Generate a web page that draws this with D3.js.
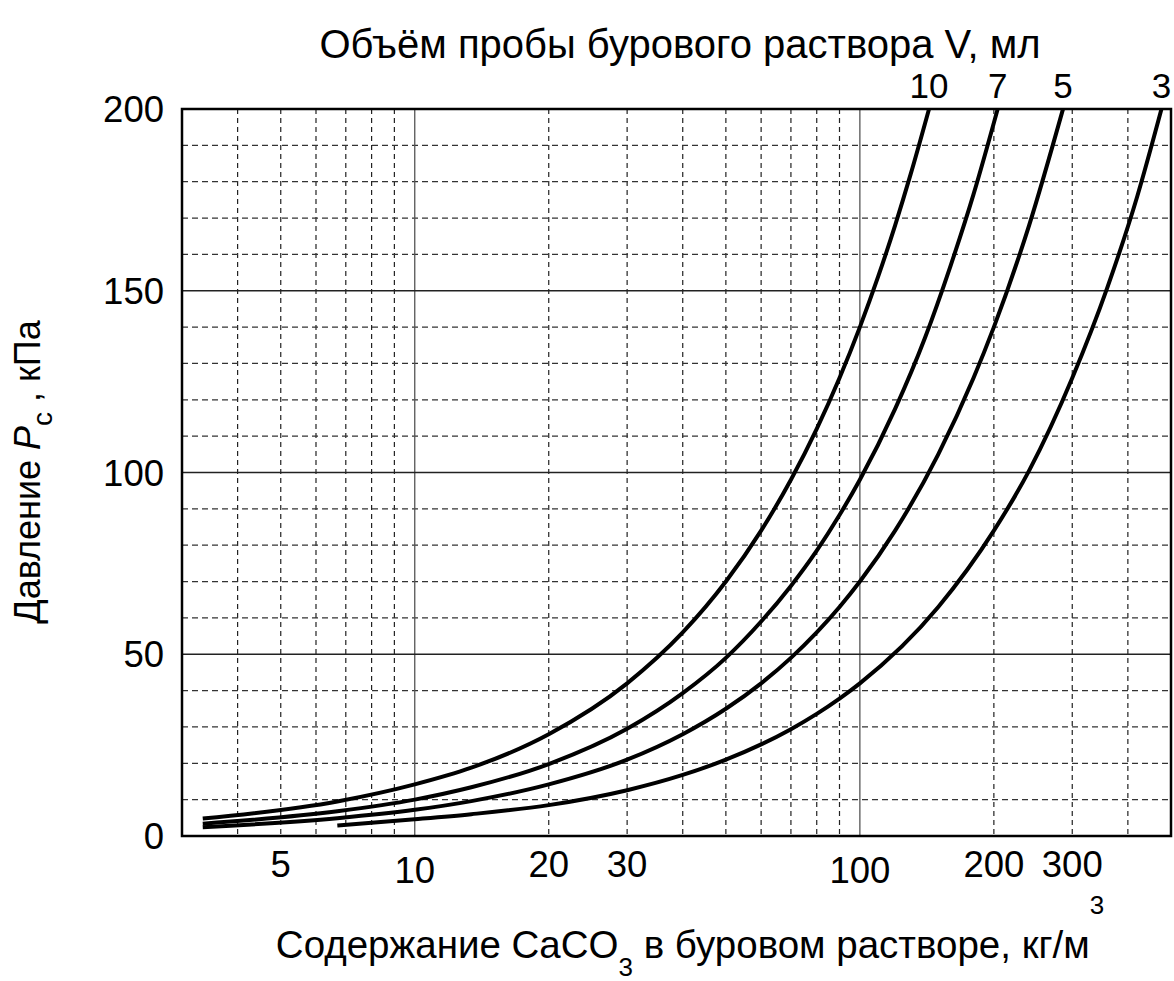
<!DOCTYPE html>
<html>
<head>
<meta charset="utf-8">
<script src="https://cdn.jsdelivr.net/npm/d3@7"></script>
<style>
  html, body { margin: 0; padding: 0; background: #fff; }
  svg { display: block; font-family: Arial, "Liberation Sans", Helvetica, sans-serif; }
</style>
</head>
<body>
<svg id="chart" width="1174" height="981"></svg>
<script>
// Content of CaCO3 (kg/m3) against pressure Pc (kPa), one line per sample volume V (ml)
const volumes = [10, 7, 5, 3];

const v10 = [3.34, 6.7, 10, 13.4, 20, 30, 40, 50, 60, 70, 80, 90, 100, 110, 120, 130, 143];
const p10 = [4.8, 9.5, 14.2, 18.8, 28, 42, 56, 70, 84, 98, 112, 126, 140, 154, 168, 182, 200];

const v7 = [3.34, 6.7, 10, 13.4, 20, 30, 40, 50, 60, 70, 80, 90, 100, 120, 140, 160, 180, 204];
const p7 = [3.4, 6.8, 10, 13.4, 19.8, 29.5, 39.3, 49, 59, 68.8, 78.5, 88.3, 98, 117.5, 137, 157, 176.5, 200];

const v5 = [3.34, 6.7, 10, 13.4, 20, 30, 40, 50, 60, 70, 80, 90, 100, 120, 150, 180, 200, 240, 286];
const p5 = [2.4, 4.9, 7.2, 9.6, 14.2, 21, 28, 35, 42, 49, 56, 63, 70, 84, 105, 126, 140, 168, 200];

const v3 = [6.7, 10, 13.4, 20, 30, 40, 50, 60, 70, 80, 90, 100, 150, 200, 240, 300, 360, 420, 476];
const p3 = [2.9, 4.6, 6, 8.5, 12.6, 16.8, 21, 25.2, 29.4, 33.6, 37.8, 42, 63, 84, 100.5, 126, 151, 176, 200];

const xTickLabels = [5, 10, 20, 30, 100, 200, 300];
const yTickLabels = [0, 50, 100, 150, 200];
const xMinorGrid = [4, 5, 6, 7, 8, 9, 20, 30, 40, 50, 60, 70, 80, 90, 200, 300, 400];
const xMajorGrid = [10, 100];
const yMinorGrid = [10, 20, 30, 40, 60, 70, 80, 90, 110, 120, 130, 140, 160, 170, 180, 190];
const yMajorGrid = [50, 100, 150];

const topTitle = "Объём пробы бурового раствора V, мл";

const series = [
  { V: volumes[0], xs: v10, ys: p10 },
  { V: volumes[1], xs: v7, ys: p7 },
  { V: volumes[2], xs: v5, ys: p5 },
  { V: volumes[3], xs: v3, ys: p3 }
];

const svg = d3.select("#chart");
const plotL = 182, plotR = 1171, plotT = 109, plotB = 836;

const x = d3.scaleLog().domain([3, 500]).range([plotL, plotR]);
const y = d3.scaleLinear().domain([0, 200]).range([plotB, plotT]);

svg.append("rect").attr("width", 1174).attr("height", 981).attr("fill", "#fff");

const grid = svg.append("g");
// dashed minor grid
grid.selectAll(".vx").data(xMinorGrid).join("line")
  .attr("x1", d => x(d)).attr("x2", d => x(d))
  .attr("y1", plotT).attr("y2", plotB)
  .attr("stroke", "#222").attr("stroke-width", 1.2).attr("stroke-dasharray", "5,4");
grid.selectAll(".hy").data(yMinorGrid).join("line")
  .attr("x1", plotL).attr("x2", plotR)
  .attr("y1", d => y(d)).attr("y2", d => y(d))
  .attr("stroke", "#333").attr("stroke-width", 1.2).attr("stroke-dasharray", "6,4");
// solid major grid
grid.selectAll(".VX").data(xMajorGrid).join("line")
  .attr("x1", d => x(d)).attr("x2", d => x(d))
  .attr("y1", plotT).attr("y2", plotB)
  .attr("stroke", "#555").attr("stroke-width", 1.3);
grid.selectAll(".HY").data(yMajorGrid).join("line")
  .attr("x1", plotL).attr("x2", plotR)
  .attr("y1", d => y(d)).attr("y2", d => y(d))
  .attr("stroke", "#222").attr("stroke-width", 1.3);

// frame
svg.append("rect")
  .attr("x", plotL).attr("y", plotT)
  .attr("width", plotR - plotL).attr("height", plotB - plotT)
  .attr("fill", "none").attr("stroke", "#000").attr("stroke-width", 2.5);

// curves
const line = d3.line().x(d => x(d[0])).y(d => y(d[1])).curve(d3.curveMonotoneX);
svg.append("g").selectAll("path").data(series).join("path")
  .attr("d", s => line(s.xs.map((v, i) => [v, s.ys[i]])))
  .attr("fill", "none").attr("stroke", "#000")
  .attr("stroke-width", 4).attr("stroke-linejoin", "round");

// curve labels at the top ends
svg.append("g").selectAll("text").data(series).join("text")
  .attr("x", s => x(s.xs[s.xs.length - 1]))
  .attr("y", 98)
  .attr("text-anchor", "middle")
  .attr("font-size", 35)
  .text(s => s.V);

// tick labels
svg.append("g").selectAll("text").data(yTickLabels).join("text")
  .attr("x", 164).attr("y", d => y(d) + 13)
  .attr("text-anchor", "end").attr("font-size", 36.5)
  .text(d => d);

const lowered = new Set([10, 100]);
svg.append("g").selectAll("text").data(xTickLabels).join("text")
  .attr("x", d => x(d))
  .attr("y", d => lowered.has(d) ? 883 : 877)
  .attr("text-anchor", "middle").attr("font-size", 36.5)
  .text(d => d);

// top title
svg.append("text")
  .attr("x", 680).attr("y", 58)
  .attr("text-anchor", "middle").attr("font-size", 40)
  .text(topTitle);

// y title
const yt = svg.append("text")
  .attr("transform", "translate(40,472) rotate(-90)")
  .attr("text-anchor", "middle").attr("font-size", 36);
yt.append("tspan").text("Давление ");
yt.append("tspan").attr("font-style", "italic").text("P");
yt.append("tspan").attr("font-size", 28).attr("dy", 12).text("c");
yt.append("tspan").attr("dy", -12).text(" , кПа");

// x title
const xt = svg.append("text")
  .attr("x", 690).attr("y", 958)
  .attr("text-anchor", "middle").attr("font-size", 38.5);
xt.append("tspan").text("Содержание CaCO");
xt.append("tspan").attr("font-size", 26).attr("dy", 18).text("3");
xt.append("tspan").attr("dy", -18).text(" в буровом растворе, кг/м");
xt.append("tspan").attr("font-size", 26).attr("dy", -44).text("3");
</script>
</body>
</html>
